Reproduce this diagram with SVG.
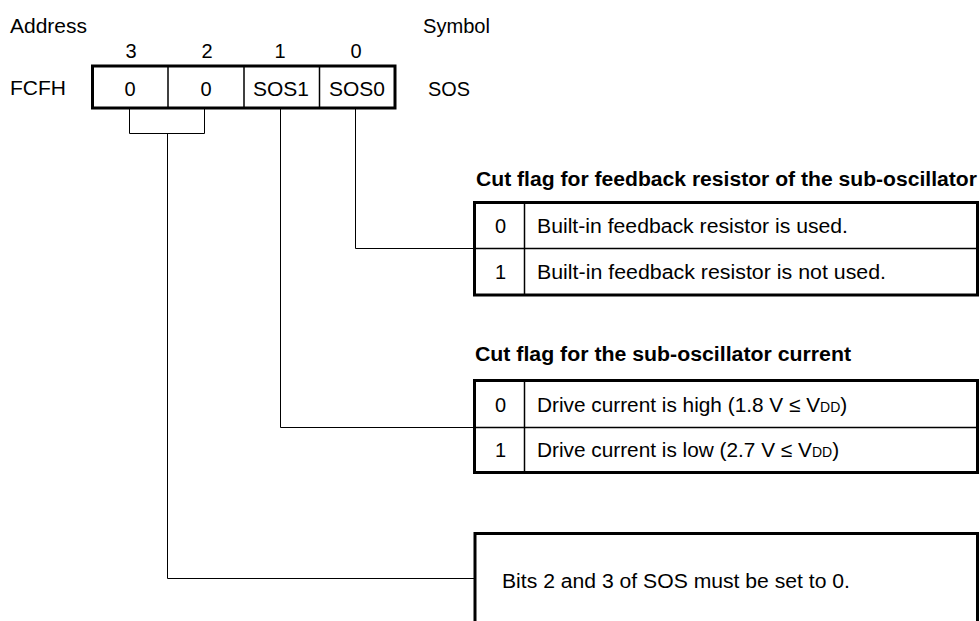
<svg xmlns="http://www.w3.org/2000/svg" width="980" height="621" viewBox="0 0 980 621">
<style>
text{font-family:"Liberation Sans",Arial,sans-serif;font-size:20px;fill:#000}
.b{font-weight:bold}
.c{text-anchor:middle}
.outer{fill:none;stroke:#000;stroke-width:3}
.inner{fill:none;stroke:#000;stroke-width:1.5}
.conn{fill:none;stroke:#000;stroke-width:1}
.sub{font-size:14px}
</style>
<rect width="980" height="621" fill="#fff"/>
<g id="labels">
<text x="10" y="33" textLength="77" lengthAdjust="spacingAndGlyphs">Address</text>
<text x="423" y="33" textLength="67" lengthAdjust="spacingAndGlyphs">Symbol</text>
<text x="10" y="95" textLength="56" lengthAdjust="spacingAndGlyphs">FCFH</text>
<text x="428" y="96" textLength="42" lengthAdjust="spacingAndGlyphs">SOS</text>
<text class="c" x="131" y="58">3</text>
<text class="c" x="207" y="58">2</text>
<text class="c" x="280" y="58">1</text>
<text class="c" x="356" y="58">0</text>
</g>
<g id="register">
<rect class="outer" x="92.5" y="66" width="302.5" height="42"/>
<line class="inner" x1="168" y1="66" x2="168" y2="108"/>
<line class="inner" x1="244" y1="66" x2="244" y2="108"/>
<line class="inner" x1="319.5" y1="66" x2="319.5" y2="108"/>
<text class="c" x="130" y="96">0</text>
<text class="c" x="206" y="96">0</text>
<text class="c" x="281" y="96" textLength="56" lengthAdjust="spacingAndGlyphs">SOS1</text>
<text class="c" x="357" y="96" textLength="56" lengthAdjust="spacingAndGlyphs">SOS0</text>
</g>
<g id="table-sos0">
<text class="b" x="476" y="186" textLength="501" lengthAdjust="spacingAndGlyphs">Cut flag for feedback resistor of the sub-oscillator</text>
<rect class="outer" x="474.5" y="202.5" width="503" height="92.5"/>
<line class="inner" x1="474.5" y1="248.5" x2="977.5" y2="248.5"/>
<line class="inner" x1="524.5" y1="202.5" x2="524.5" y2="295"/>
<text class="c" x="500.5" y="233">0</text>
<text x="537" y="233" textLength="311" lengthAdjust="spacingAndGlyphs">Built-in feedback resistor is used.</text>
<text class="c" x="500.5" y="279">1</text>
<text x="537" y="279" textLength="349" lengthAdjust="spacingAndGlyphs">Built-in feedback resistor is not used.</text>
</g>
<g id="table-sos1">
<text class="b" x="475" y="361" textLength="376" lengthAdjust="spacingAndGlyphs">Cut flag for the sub-oscillator current</text>
<rect class="outer" x="474.5" y="380.5" width="503" height="92"/>
<line class="inner" x1="474.5" y1="427.5" x2="977.5" y2="427.5"/>
<line class="inner" x1="524.5" y1="380.5" x2="524.5" y2="472.5"/>
<text class="c" x="500.5" y="412">0</text>
<text x="537" y="412" style="font-size:20.8px">Drive current is high (1.8 V ≤ V<tspan class="sub">DD</tspan>)</text>
<text class="c" x="500.5" y="457">1</text>
<text x="537" y="457" style="font-size:20.8px">Drive current is low (2.7 V ≤ V<tspan class="sub">DD</tspan>)</text>
</g>
<g id="note">
<rect class="outer" x="475" y="533.5" width="502.5" height="120"/>
<text x="502" y="588" textLength="348" lengthAdjust="spacingAndGlyphs">Bits 2 and 3 of SOS must be set to 0.</text>
</g>
<g id="connectors">
<polyline class="conn" points="129.5,108 129.5,133.5 204.5,133.5 204.5,108"/>
<polyline class="conn" points="167.5,133.5 167.5,578.5 475,578.5"/>
<polyline class="conn" points="280.5,108 280.5,427.5 474,427.5"/>
<polyline class="conn" points="355.5,108 355.5,248.5 474,248.5"/>
</g>
</svg>
